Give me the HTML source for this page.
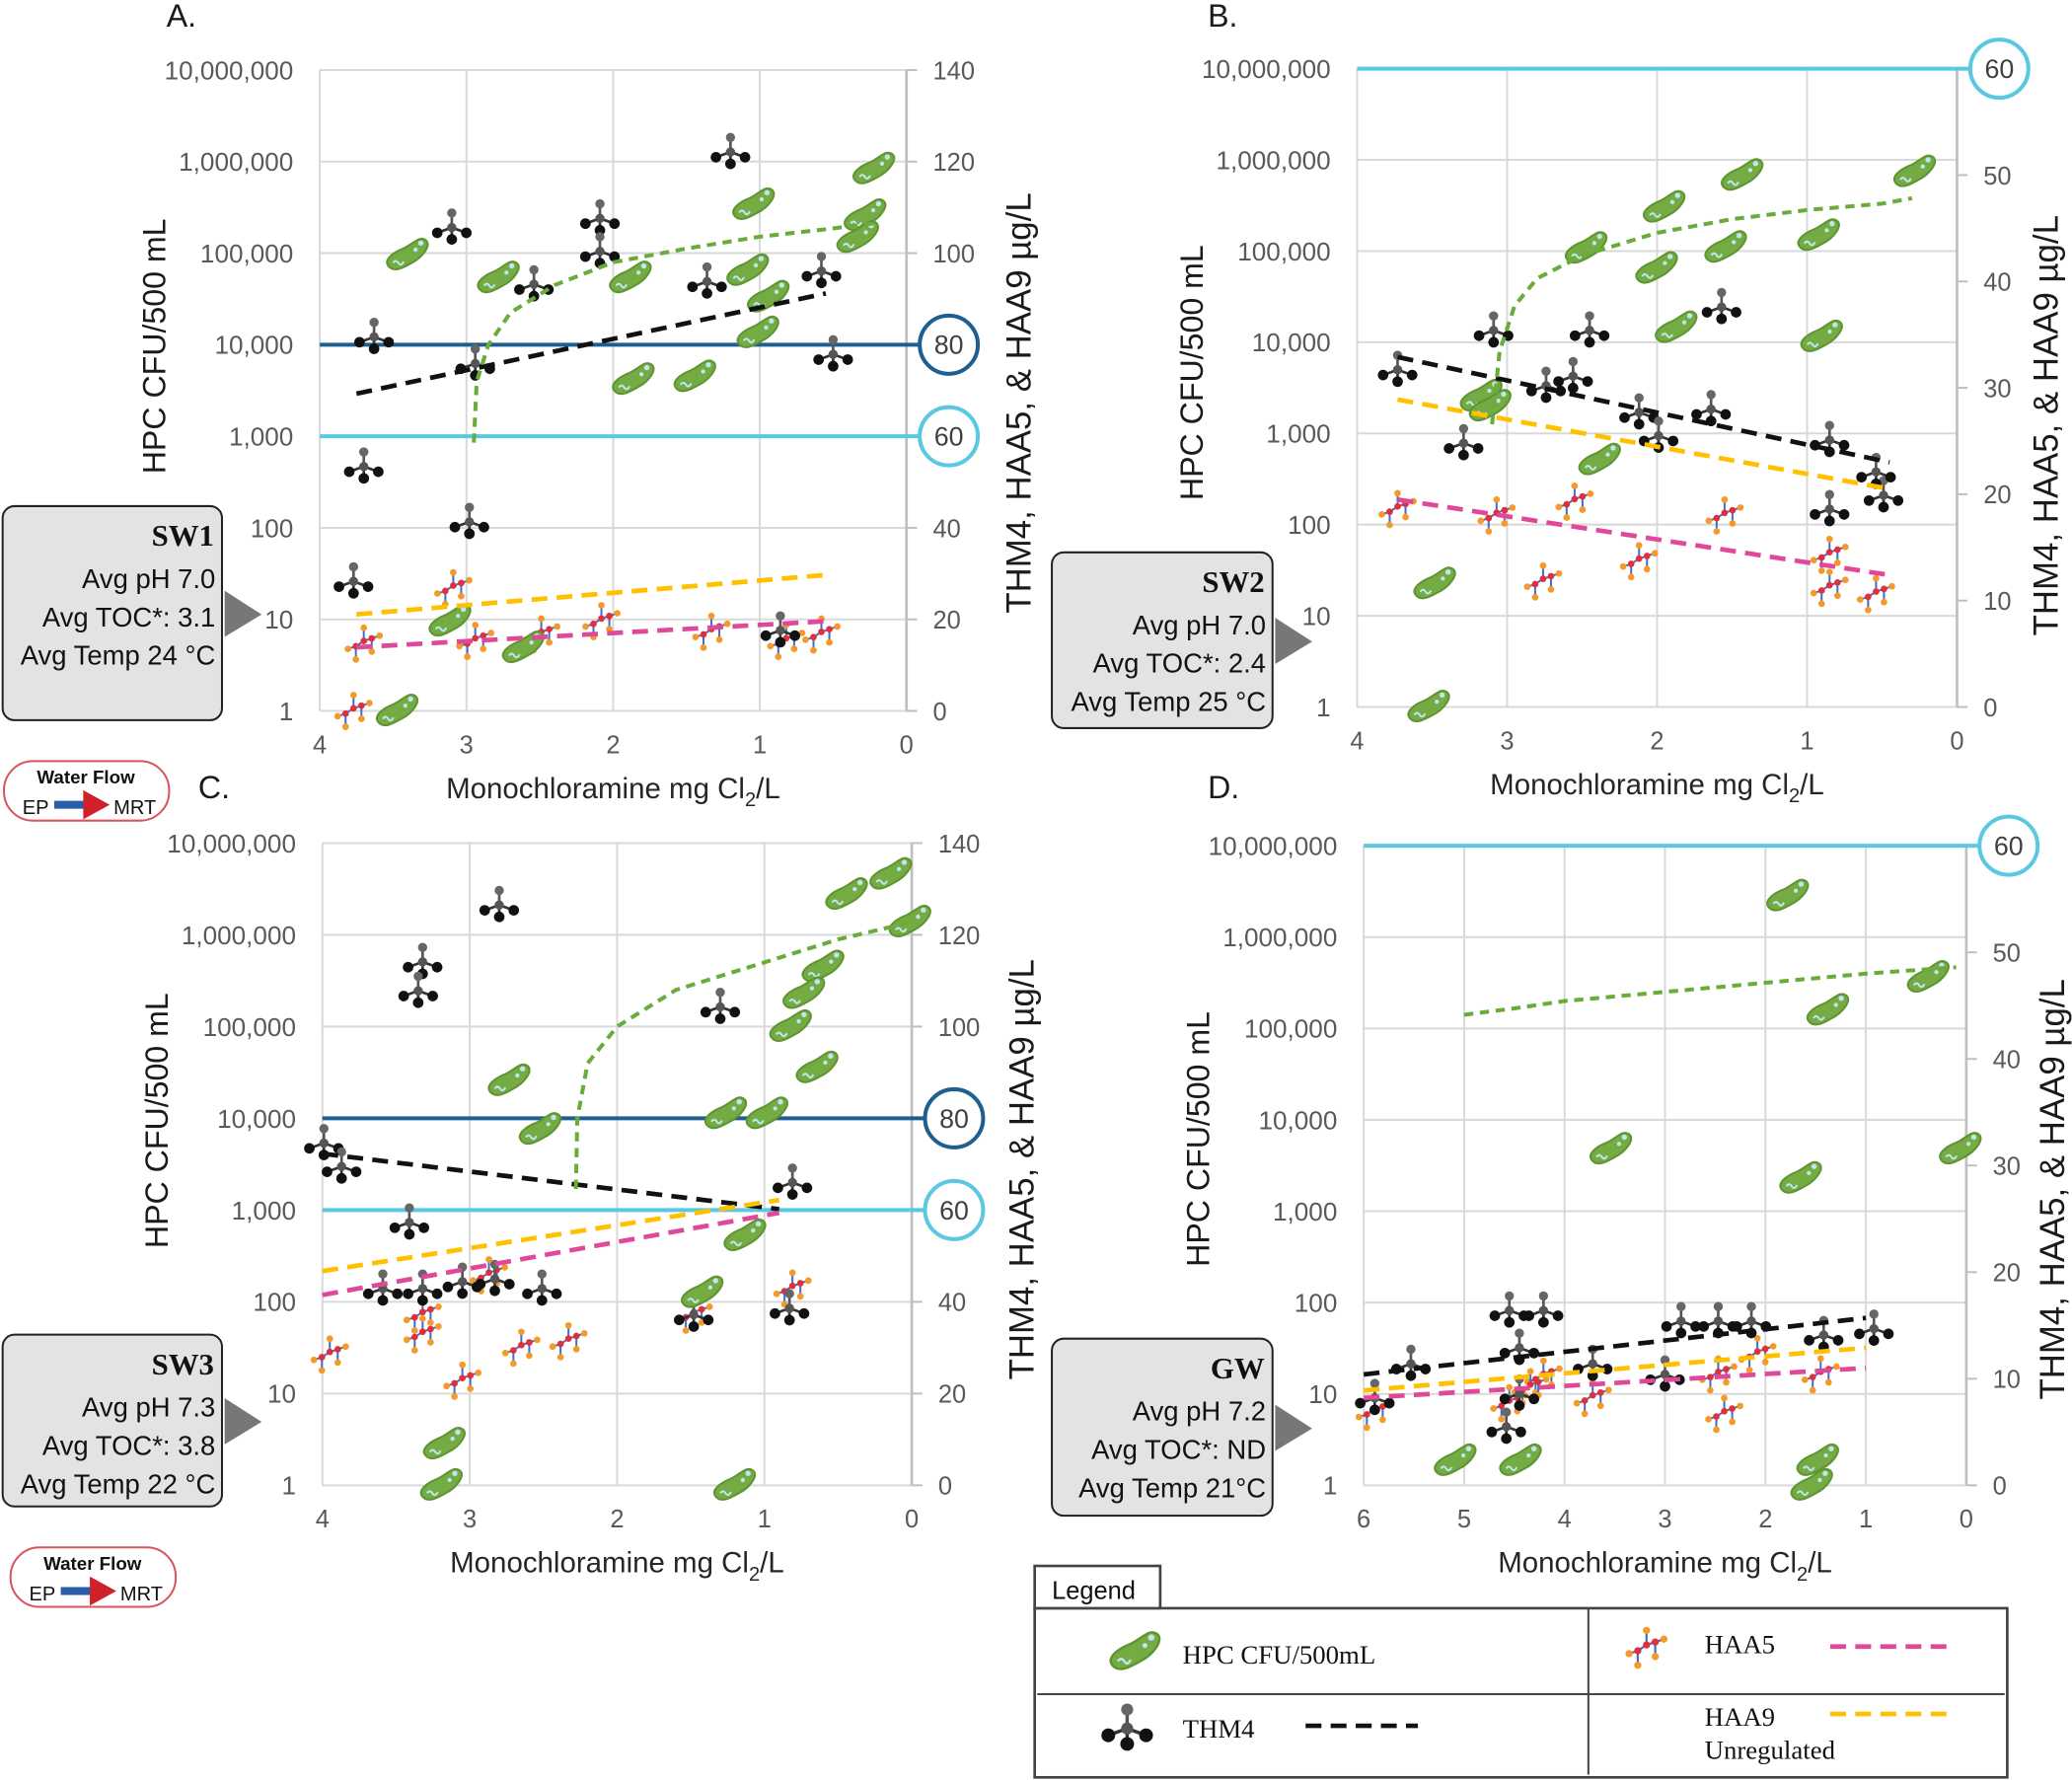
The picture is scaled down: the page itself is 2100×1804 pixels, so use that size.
<!DOCTYPE html>
<html><head><meta charset="utf-8">
<style>
html,body{margin:0;padding:0;background:#fff;}
svg{display:block;}
text{font-family:"Liberation Sans",sans-serif;}
text.serif{font-family:"Liberation Serif",serif;}
</style></head>
<body>
<svg id="fig" xmlns="http://www.w3.org/2000/svg" width="2100" height="1804" viewBox="0 0 1568 1347" preserveAspectRatio="none">
<defs>
<g id="bac">
<path d="M-13,9 C-18,4 -10,-2 -2,-5 C6,-9 10,-15 15,-11 C19,-7 12,2 4,6 C-3,10 -9,13 -13,9 Z" fill="#74ab43" stroke="#5e9432" stroke-width="1.5"/>
<circle cx="11" cy="-9" r="2" fill="#bfe6f0"/><circle cx="7" cy="-4" r="1.6" fill="#bfe6f0"/>
<path d="M-10,6 q2,-3 4,0 t4,-1" fill="none" stroke="#bfe6f0" stroke-width="1.5"/>
</g>
<g id="thm">
<line x1="0" y1="0" x2="0" y2="-11" stroke="#555" stroke-width="2"/>
<line x1="0" y1="0" x2="-11" y2="4" stroke="#333" stroke-width="2"/>
<line x1="0" y1="0" x2="11" y2="4" stroke="#333" stroke-width="2"/>
<line x1="0" y1="0" x2="0" y2="9" stroke="#333" stroke-width="2"/>
<circle cx="0" cy="-11" r="3.5" fill="#666"/><circle cx="-11" cy="4" r="4" fill="#111"/>
<circle cx="11" cy="4" r="4" fill="#111"/><circle cx="0" cy="9" r="4" fill="#111"/>
<circle cx="0" cy="0" r="3.5" fill="#555"/>
</g>
<g id="haa">
<polyline points="-12,4 -6,2 0,-2 6,-4 12,-6" fill="none" stroke="#3b6fd0" stroke-width="1.5"/>
<line x1="-6" y1="2" x2="-6" y2="12" stroke="#3b6fd0" stroke-width="1.5"/>
<line x1="0" y1="-2" x2="0" y2="-12" stroke="#3b6fd0" stroke-width="1.5"/>
<line x1="6" y1="-4" x2="6" y2="6" stroke="#3b6fd0" stroke-width="1.5"/>
<circle cx="-6" cy="2" r="2.5" fill="#e0303a"/><circle cx="0" cy="-2" r="2.5" fill="#e0303a"/><circle cx="6" cy="-4" r="2.5" fill="#e0303a"/>
<circle cx="-12" cy="4" r="2.5" fill="#f59a2a"/><circle cx="12" cy="-6" r="2.5" fill="#f59a2a"/>
<circle cx="-6" cy="12" r="2.5" fill="#f59a2a"/><circle cx="0" cy="-12" r="2.5" fill="#f59a2a"/><circle cx="6" cy="6" r="2.5" fill="#f59a2a"/>
</g>
</defs>
</svg>
<script>
// ===== Panel A data =====
const aHpcX=[3.41,2.79,1.89,1.05,0.23,0.29,0.34,1.09,0.95,1.02,1.87,1.45,3.48,3.12,2.62];
const aHpcY=[4.98,4.73,4.73,5.53,5.92,5.41,5.17,4.81,4.52,4.13,3.62,3.65,0.0,0.98,0.69];
const aThmX=[3.63,3.10,2.09,2.09,2.54,1.36,1.20,0.58,0.50,2.94,3.70,2.98,3.77,0.86];
const aThmY=[81.7,105.6,107.6,100.4,93.2,93.8,122.1,96.1,77.9,75.9,53.4,41.3,28.3,17.6];
const aHaaX=[3.77,3.09,2.94,2.49,2.08,1.33,0.82,0.58,3.70];
const aHaaY=[0,26.8,15.3,16.7,19.6,17.3,15.3,16.7,14.7];
const aThmTrend=[69.3,91.2], aHaa9Trend=[21.1,29.7], aHaa5Trend=[13.9,19.6], aTrendX=[3.75,0.55];
const aHpcTrendX=[2.95,2.93,2.85,2.7,2.4,2.0,1.5,1.0,0.5,0.2];
const aHpcTrendY=[2.93,3.6,4.0,4.35,4.65,4.9,5.05,5.18,5.27,5.33];
// ===== Panel B data =====
const bHpcX=[0.29,1.44,1.96,2.48,2.01,1.55,0.93,1.88,0.91,3.18,2.39,3.49,3.53,3.12];
const bHpcY=[5.87,5.83,5.48,5.03,4.81,5.04,5.17,4.16,4.06,3.41,2.71,1.35,0.0,3.3];
const bThmX=[3.73,3.09,2.45,1.57,2.74,2.56,3.29,2.12,1.99,1.64,0.85,0.85,0.49,0.54];
const bThmY=[31.7,35.4,35.4,37.6,30.2,31.1,24.8,27.7,25.5,28.0,25.1,18.6,19.9,22.1];
const bHaaX=[3.73,3.07,2.55,1.55,2.12,2.76,0.85,0.85,0.54];
const bHaaY=[18.6,18.0,19.3,18.0,13.7,11.8,14.3,11.2,10.6];
const bThmTrend=[32.9,23.0], bHaa9Trend=[28.9,20.5], bHaa5Trend=[19.5,12.4], bTrendX=[3.73,0.45];
const bHpcTrendX=[3.1,3.05,2.95,2.8,2.5,2.0,1.5,1.0,0.5,0.3];
const bHpcTrendY=[3.1,3.9,4.4,4.7,4.95,5.2,5.35,5.45,5.52,5.58];
// ===== Panel C data =====
const cHpcX=[0.45,0.15,0.02,0.61,0.74,0.83,0.65,2.74,2.53,1.27,0.99,1.14,1.43,3.18,3.2,1.21];
const cHpcY=[6.44,6.66,6.14,5.65,5.36,5.0,4.55,4.41,3.88,4.05,4.05,2.72,2.10,0.45,0.0,0.0];
const cThmX=[2.80,3.32,3.35,1.30,3.99,3.87,3.41,0.81,3.59,3.32,3.05,2.83,2.51,1.48,0.83];
const cThmY=[126.5,114.1,107.8,104.3,74.6,69.5,57.3,66.0,42.9,42.9,44.4,45.0,42.9,37.2,38.6];
const cHaaX=[3.95,3.32,3.05,2.65,2.33,1.48,0.81,2.87,3.32];
const cHaaY=[28.5,37.2,22.8,30.0,31.4,37.2,42.9,45.8,32.9];
const cThmTrend=[72.3,60.2], cHaa9Trend=[46.7,62.2], cHaa5Trend=[41.5,59.4], cTrendX=[4.0,0.9];
const cHpcTrendX=[2.28,2.27,2.2,2.0,1.6,1.0,0.5,0.0];
const cHpcTrendY=[3.23,4.0,4.6,5.0,5.4,5.7,5.95,6.14];
// ===== Panel D data =====
const dHpcX=[1.79,1.39,0.39,3.55,1.66,0.07,5.1,4.45,1.49,1.55];
const dHpcY=[6.45,5.2,5.56,3.68,3.36,3.68,0.27,0.27,0.27,0.0];
const dThmX=[5.89,5.53,4.55,4.21,4.45,4.45,4.58,3.72,2.84,2.47,2.14,1.42,0.92,3.0];
const dThmY=[8.2,11.4,16.4,16.4,12.9,8.6,5.5,11.4,15.4,15.4,15.4,14.1,14.7,10.4];
const dHaaX=[5.89,4.55,4.21,3.72,2.47,2.41,2.08,1.45,4.34];
const dHaaY=[6.9,7.7,10.2,8.2,10.4,6.7,12.3,10.4,9.2];
const dThmTrend=[10.4,15.7], dHaa9Trend=[8.9,12.9], dHaa5Trend=[8.2,11.0], dTrendX=[6.0,1.0];
const dHpcTrendX=[5.0,4.5,4.0,3.0,2.0,1.0,0.1];
const dHpcTrendY=[5.15,5.22,5.3,5.4,5.5,5.6,5.67];
const leftTicks=["1","10","100","1,000","10,000","100,000","1,000,000","10,000,000"];

const NS="http://www.w3.org/2000/svg";
const svg=document.getElementById('fig');
function mk(tag,attrs,parent){const e=document.createElementNS(NS,tag);for(const k in attrs)e.setAttribute(k,attrs[k]);(parent||svg).appendChild(e);return e;}
function txt(x,y,s,attrs,parent){const e=mk('text',Object.assign({x:x,y:y},attrs),parent);e.textContent=s;return e;}

function panel(cfg){
  const g=mk('g',{});
  
  
  const L=cfg.l,R=cfg.r,T=cfg.t,B=cfg.b;
  const xs=v=>R-(R-L)*v/cfg.xmax;
  const yl=v=>B-(B-T)*v/7;
  const yr=v=>B-(B-T)*v/cfg.rmax;
  for(let i=0;i<=7;i++){const l=mk('line',{x1:L,x2:R,y1:yl(i),y2:yl(i),stroke:'#d9d9d9','stroke-width':1.5},g);
    
    
    const t=txt(L-20,yl(i)+7,leftTicks[i],{'text-anchor':'end','font-size':19.5,fill:'#595959'},g);
    
    }
  for(let v=0;v<=cfg.xmax;v++){const l=mk('line',{x1:xs(v),x2:xs(v),y1:T,y2:B,stroke:'#d9d9d9','stroke-width':1.5},g);
    
    
    const t=txt(xs(v),B+32,String(v),{'text-anchor':'middle','font-size':19,fill:'#595959'},g);
    
    }
  mk('line',{x1:R,x2:R,y1:T,y2:B,stroke:'#bfbfbf','stroke-width':2},g);
  for(let v=0;v<=cfg.rmax;v+=cfg.rstep){
    mk('line',{x1:R,x2:R+8,y1:yr(v),y2:yr(v),stroke:'#bfbfbf','stroke-width':1.5},g);
    if(cfg.refs.some(r=>r.v===v))continue;
    const t=txt(R+20,yr(v)+7,String(v),{'font-size':19,fill:'#595959'},g);
    
    
  }
  cfg.refs.forEach(r=>{
    const l=mk('line',{x1:L,x2:R+10,y1:yr(r.v),y2:yr(r.v),stroke:r.c,'stroke-width':3},g);
    
    
    mk('circle',{cx:R+32,cy:yr(r.v),r:22,fill:'#fff',stroke:r.c,'stroke-width':3},g);
    const t=txt(R+32,yr(r.v)+7,String(r.v),{'text-anchor':'middle','font-size':20,fill:'#404040'},g);
    
    
  });
  cfg.haaX.forEach((x,i)=>{const u=mk('use',{href:'#haa',transform:`translate(${xs(x)},${yr(cfg.haaY[i])})`},g);
    
    });
  cfg.thmX.forEach((x,i)=>{const u=mk('use',{href:'#thm',transform:`translate(${xs(x)},${yr(cfg.thmY[i])})`},g);
    
    });
  cfg.hpcX.forEach((x,i)=>{const u=mk('use',{href:'#bac',transform:`translate(${xs(x)},${yl(cfg.hpcY[i])})`},g);
    
    });
  const tr=(ys,col,dash,name)=>{const l=mk('line',{x1:xs(cfg.tx[0]),x2:xs(cfg.tx[1]),y1:yr(ys[0]),y2:yr(ys[1]),stroke:col,'stroke-width':3.5,'stroke-dasharray':dash},g);
    
    };
  tr(cfg.thmT,'#111','12,7','thm4-trendline');
  tr(cfg.h9T,'#ffc000','12,7','haa9-trendline');
  tr(cfg.h5T,'#e0489a','12,7','haa5-trendline');
  const pts=cfg.gx.map((x,i)=>xs(x)+','+yl(cfg.gy[i])).join(' ');
  const p=mk('polyline',{points:pts,fill:'none',stroke:'#6aab3a','stroke-width':3,'stroke-dasharray':'7,5'},g);
  
  
  const cx=(L+R)/2;
  const xt=txt(cx,B+66,'',{'text-anchor':'middle','font-size':22,fill:'#262626'},g);
  
  
  xt.innerHTML='Monochloramine mg Cl<tspan dy="6" font-size="15">2</tspan><tspan dy="-6">/L</tspan>';
  const lt=txt(0,0,'HPC CFU/500 mL',{'text-anchor':'middle','font-size':24,fill:'#1a1a1a',transform:`translate(${L-117},${cfg.lty}) rotate(-90)`},g);
  
  
  const rt=txt(0,0,'THM4,  HAA5, & HAA9 µg/L',{'text-anchor':'middle','font-size':26,fill:'#1a1a1a',transform:`translate(${cfg.rtx},${cfg.rty}) rotate(-90)`},g);
  
  
  const pl=txt(cfg.plx,cfg.ply,cfg.id+'.',{'font-size':24,fill:'#1a1a1a'},g);
  
  
}
const dark='#1f5f8f', light='#5ac8e0';
panel({id:'A',l:242,r:686,t:53,b:538,xmax:4,rmax:140,rstep:20,refs:[{v:80,c:dark},{v:60,c:light}],hpcX:aHpcX,hpcY:aHpcY,thmX:aThmX,thmY:aThmY,haaX:aHaaX,haaY:aHaaY,tx:aTrendX,thmT:aThmTrend,h9T:aHaa9Trend,h5T:aHaa5Trend,gx:aHpcTrendX,gy:aHpcTrendY,rtx:780,rty:305,lty:262,plx:126,ply:20});
panel({id:'B',l:1027,r:1481,t:52,b:535,xmax:4,rmax:60,rstep:10,refs:[{v:60,c:light}],hpcX:bHpcX,hpcY:bHpcY,thmX:bThmX,thmY:bThmY,haaX:bHaaX,haaY:bHaaY,tx:bTrendX,thmT:bThmTrend,h9T:bHaa9Trend,h5T:bHaa5Trend,gx:bHpcTrendX,gy:bHpcTrendY,rtx:1557,rty:322,lty:282,plx:914,ply:20});
panel({id:'C',l:244,r:690,t:638,b:1124,xmax:4,rmax:140,rstep:20,refs:[{v:80,c:dark},{v:60,c:light}],hpcX:cHpcX,hpcY:cHpcY,thmX:cThmX,thmY:cThmY,haaX:cHaaX,haaY:cHaaY,tx:cTrendX,thmT:cThmTrend,h9T:cHaa9Trend,h5T:cHaa5Trend,gx:cHpcTrendX,gy:cHpcTrendY,rtx:782,rty:885,lty:848,plx:150,ply:604});
panel({id:'D',l:1032,r:1488,t:640,b:1124,xmax:6,rmax:60,rstep:10,refs:[{v:60,c:light}],hpcX:dHpcX,hpcY:dHpcY,thmX:dThmX,thmY:dThmY,haaX:dHaaX,haaY:dHaaY,tx:dTrendX,thmT:dThmTrend,h9T:dHaa9Trend,h5T:dHaa5Trend,gx:dHpcTrendX,gy:dHpcTrendY,rtx:1562,rty:900,lty:862,plx:914,ply:604});

function infoBox(x,y,w,h,name,lines){
  const g=mk('g',{});
  
  
  mk('rect',{x:x,y:y,width:w,height:h,rx:9,fill:'#e3e3e3',stroke:'#222','stroke-width':1.5},g);
  mk('polygon',{points:`${x+w+2},${y+h/2-17} ${x+w+30},${y+h/2+1} ${x+w+2},${y+h/2+18}`,fill:'#777'},g);
  txt(x+w-6,y+30,name,{'text-anchor':'end','font-size':23,'font-weight':'bold','class':'serif',fill:'#111'},g);
  lines.forEach((s,i)=>txt(x+w-5,y+62+i*29,s,{'text-anchor':'end','font-size':20.5,fill:'#111'},g));
}
infoBox(2,383,166,162,'SW1',['Avg pH 7.0','Avg TOC*: 3.1','Avg Temp 24 °C']);
infoBox(796,418,167,133,'SW2',['Avg pH 7.0','Avg TOC*: 2.4','Avg Temp 25 °C']);
infoBox(2,1010,166,130,'SW3',['Avg pH 7.3','Avg TOC*: 3.8','Avg Temp 22 °C']);
infoBox(796,1013,167,134,'GW',['Avg pH 7.2','Avg TOC*: ND','Avg Temp  21°C']);

function flow(x,y){
  const g=mk('g',{});
  
  
  mk('rect',{x:x,y:y,width:125,height:45,rx:22,fill:'#fff',stroke:'#d9535a','stroke-width':1.5},g);
  txt(x+62,y+17,'Water Flow',{'text-anchor':'middle','font-size':14,'font-weight':'bold',fill:'#111'},g);
  txt(x+14,y+40,'EP',{'font-size':15,fill:'#111'},g);
  mk('rect',{x:x+38,y:y+30,width:24,height:6,fill:'#2a5caa'},g);
  mk('polygon',{points:`${x+60},${y+22} ${x+80},${y+33} ${x+60},${y+44}`,fill:'#d0202a'},g);
  txt(x+83,y+40,'MRT',{'font-size':15,fill:'#111'},g);
}
flow(3,576); flow(8,1171);

const lg=mk('g',{});


mk('rect',{x:783,y:1217,width:736,height:128,fill:'#fff',stroke:'#444','stroke-width':2},lg);
mk('rect',{x:783,y:1185,width:95,height:32,fill:'#fff',stroke:'#444','stroke-width':2},lg);
mk('line',{x1:785,x2:1517,y1:1282,y2:1282,stroke:'#444','stroke-width':1.5},lg);
mk('line',{x1:1202,x2:1202,y1:1217,y2:1343,stroke:'#444','stroke-width':1.5},lg);
txt(796,1210,'Legend',{'font-size':19,fill:'#111'},lg);
const sf={'class':'serif','font-size':20,fill:'#111'};
mk('use',{href:'#bac',transform:'translate(858,1250) scale(1.2)'},lg);
txt(895,1259,'HPC CFU/500mL',sf,lg);
mk('use',{href:'#haa',transform:'translate(1246,1247) scale(1.1)'},lg);
txt(1290,1251,'HAA5',sf,lg);
mk('line',{x1:1385,x2:1475,y1:1246,y2:1246,stroke:'#e0489a','stroke-width':3.5,'stroke-dasharray':'12,7'},lg);
mk('use',{href:'#thm',transform:'translate(853,1308) scale(1.3)'},lg);
txt(895,1315,'THM4',sf,lg);
mk('line',{x1:988,x2:1073,y1:1306,y2:1306,stroke:'#111','stroke-width':3.5,'stroke-dasharray':'12,7'},lg);
txt(1290,1306,'HAA9',sf,lg);
txt(1290,1331,'Unregulated',sf,lg);
mk('line',{x1:1385,x2:1475,y1:1297,y2:1297,stroke:'#ffc000','stroke-width':3.5,'stroke-dasharray':'12,7'},lg);
</script>
</body></html>
